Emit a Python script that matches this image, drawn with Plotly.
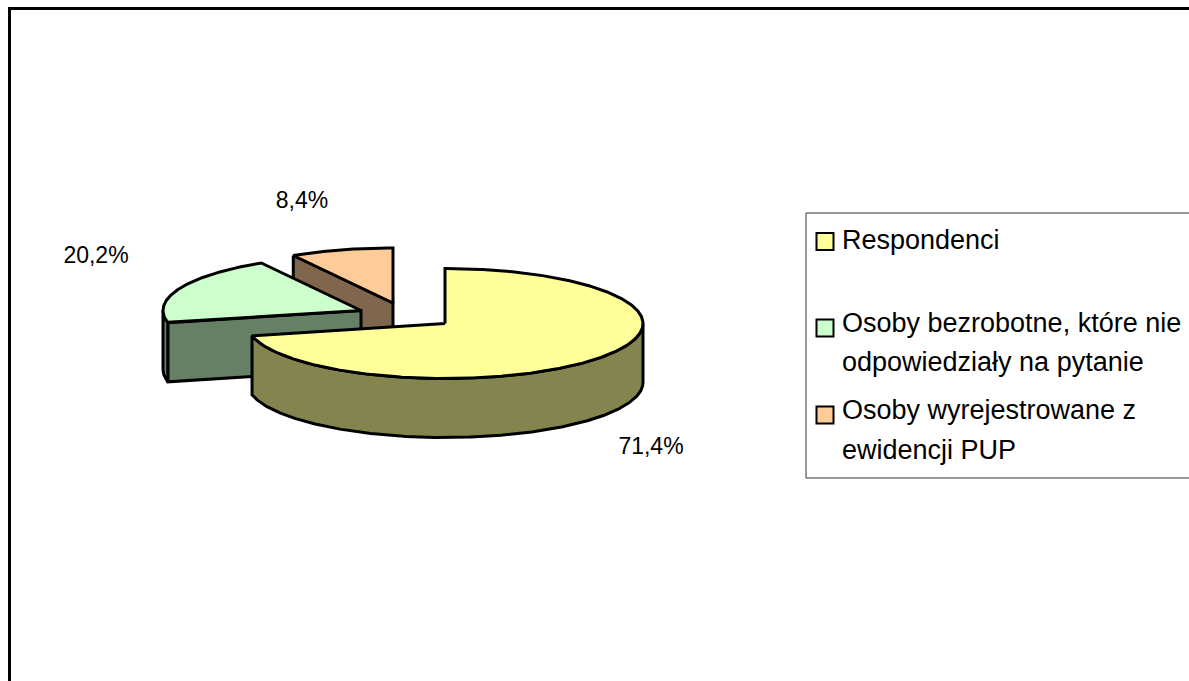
import numpy as np
import plotly.graph_objects as go

# Data
categories = ["Respondenci", "Osoby bezrobotne, które nie odpowiedziały na pytanie",
              "Osoby wyrejestrowane z ewidencji PUP"]
values = [71.4, 20.2, 8.4]
legend_lines = [["Respondenci"],
                ["Osoby bezrobotne, które nie", "odpowiedziały na pytanie"],
                ["Osoby wyrejestrowane z", "ewidencji PUP"]]

# Styles and layout
top_colors = ["#FFFF99", "#CCFFCC", "#FFCC99"]
wall_colors = ["#84844F", "#668066", "#80664D"]
apexes = [(445, 323.5), (361, 310.5), (393, 303)]
RX, RY, DEPTH = 198, 55, 59
label_pos = [(651, 448), (96, 257), (302, 202)]
FONT = "Liberation Sans"
LW = 3

fracs = np.array(values) / sum(values)
edges = np.concatenate([[0], np.cumsum(fracs)]) * 360


def arc(apex, a0, a1, dz=0):
    t = np.radians(np.linspace(a0, a1, max(int(abs(a1 - a0)) * 2, 2) + 1))
    return apex[0] + RX * np.sin(t), apex[1] - RY * np.cos(t) + dz


fig = go.Figure()


def poly(x, y, color):
    x = list(x) + [x[0]]
    y = list(y) + [y[0]]
    fig.add_trace(go.Scatter(x=x, y=y, mode="lines", fill="toself", fillcolor=color,
                             line=dict(color="black", width=LW, shape="linear"),
                             hoverinfo="skip", showlegend=False))


# Draw back to front: third, second, first slice
for i in [2, 1, 0]:
    a0, a1 = edges[i], edges[i + 1]
    ap = apexes[i]
    # curved outer wall, only the part facing the viewer
    lo, hi = max(a0, 90), min(a1, 270)
    if lo < hi:
        ox, oy = arc(ap, lo, hi)
        bx, by = arc(ap, hi, lo, DEPTH)
        poly(np.r_[ox, bx], np.r_[oy, by], wall_colors[i])
    if i > 0:
        # radial wall facing the viewer, running from the start corner to the apex
        sx, sy = arc(ap, a0, a0)
        sx, sy = sx[0], sy[0]
        poly([sx, ap[0], ap[0], sx], [sy, ap[1], ap[1] + DEPTH, sy + DEPTH], wall_colors[i])
    ax, ay = arc(ap, a0, a1)
    poly(np.r_[ap[0], ax], np.r_[ap[1], ay], top_colors[i])

# Percentage labels
fig.add_trace(go.Scatter(x=[p[0] for p in label_pos], y=[p[1] for p in label_pos], mode="text",
                         text=[f"{v:.1f}%".replace(".", ",") for v in values],
                         textposition="middle center",
                         textfont=dict(family=FONT, size=23, color="black"),
                         hoverinfo="skip", showlegend=False))

# Legend
swatch_y = [241.5, 328, 415]
line_y = [[242.5], [325.5, 364.5], [412.5, 452.5]]
fig.add_trace(go.Scatter(x=[825] * 3, y=swatch_y, mode="markers",
                         marker=dict(symbol="square", size=17, color=top_colors,
                                     line=dict(color="black", width=2)),
                         hoverinfo="skip", showlegend=False))
fig.add_trace(go.Scatter(x=[842] * 5, y=[y for ys in line_y for y in ys], mode="text",
                         text=[t for ls in legend_lines for t in ls],
                         textposition="middle right",
                         textfont=dict(family=FONT, size=27, color="black"),
                         hoverinfo="skip", showlegend=False))

shapes = [
    dict(type="rect", x0=806, x1=1195, y0=213, y1=478, line=dict(color="#333333", width=1), layer="below"),
    dict(type="line", x0=9.5, x1=1195, y0=8.5, y1=8.5, line=dict(color="black", width=3)),
    dict(type="line", x0=9.5, x1=9.5, y0=7, y1=690, line=dict(color="black", width=3)),
]

fig.update_layout(width=1189, height=681, margin=dict(l=0, r=0, t=0, b=0, pad=0),
                  paper_bgcolor="white", plot_bgcolor="white", shapes=shapes, showlegend=False,
                  xaxis=dict(range=[0, 1189], visible=False, fixedrange=True),
                  yaxis=dict(range=[681, 0], visible=False, fixedrange=True))

fig.write_html("out.html", config={"displayModeBar": False},
               post_script="document.body.style.margin='0';document.documentElement.style.overflow='hidden';")
